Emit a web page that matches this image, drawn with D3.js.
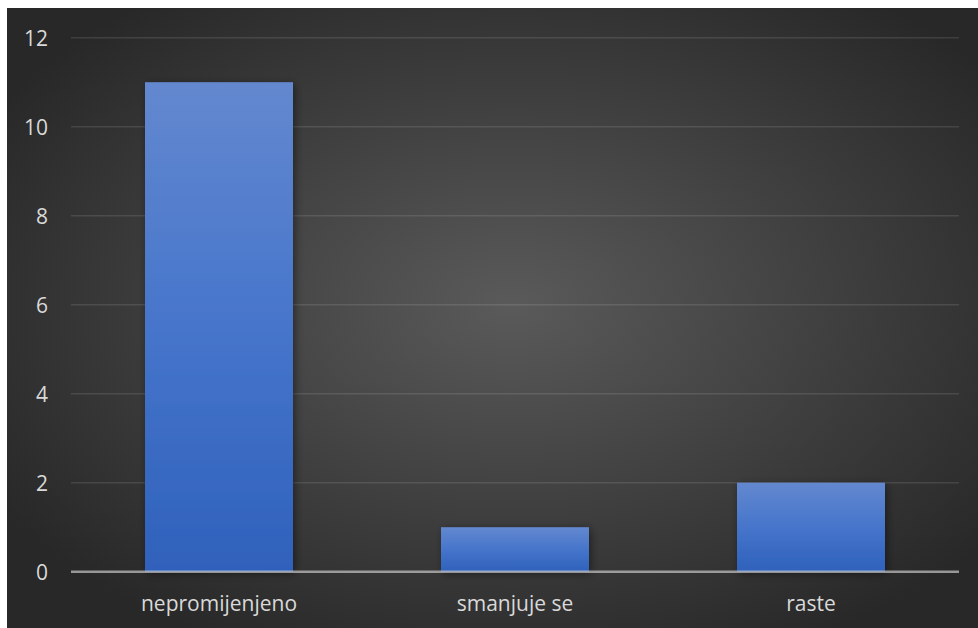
<!DOCTYPE html>
<html><head><meta charset="utf-8">
<script src="https://cdn.jsdelivr.net/npm/d3@7"></script>
<style>html,body{margin:0;padding:0;background:#fff;}svg{display:block;}</style>
</head><body>
<svg id="c" width="978" height="628"></svg>
<script>
const categories = ["nepromijenjeno", "smanjuje se", "raste"];
const values = [11, 1, 2];
const yTicks = [0, 2, 4, 6, 8, 10, 12];

const svg = d3.select("#c");
const W = 978, H = 628;
const frame = {x: 7, y: 8, w: W - 7, h: H - 8};
const plot = {left: 71, right: 959, top: 37.7, bottom: 571.7};

const defs = svg.append("defs");
const bg = defs.append("radialGradient").attr("id", "bg")
  .attr("cx", "52%").attr("cy", "48%").attr("r", "62%");
bg.append("stop").attr("offset", "0%").attr("stop-color", "#5a5a5a");
bg.append("stop").attr("offset", "100%").attr("stop-color", "#282828");

const bar = defs.append("linearGradient").attr("id", "bar")
  .attr("x1", 0).attr("y1", 0).attr("x2", 0).attr("y2", 1);
bar.append("stop").attr("offset", "0%").attr("stop-color", "#6388cf");
bar.append("stop").attr("offset", "50%").attr("stop-color", "#4675cb");
bar.append("stop").attr("offset", "100%").attr("stop-color", "#2f61bb");

const sh = defs.append("filter").attr("id", "sh")
  .attr("x", "-20%").attr("y", "-20%").attr("width", "140%").attr("height", "140%");
sh.append("feDropShadow").attr("dx", 2).attr("dy", 2).attr("stdDeviation", 4)
  .attr("flood-color", "#000").attr("flood-opacity", 0.45);

svg.append("rect").attr("x", frame.x).attr("y", frame.y)
  .attr("width", frame.w).attr("height", frame.h).attr("fill", "url(#bg)");

const x = d3.scaleBand().domain(categories)
  .range([plot.left, plot.right]).paddingInner(0.5).paddingOuter(0.25);
const y = d3.scaleLinear().domain([0, 12]).range([plot.bottom, plot.top]);

// gridlines
svg.append("g").selectAll("line").data(yTicks.filter(d => d > 0)).join("line")
  .attr("x1", plot.left).attr("x2", plot.right)
  .attr("y1", d => y(d)).attr("y2", d => y(d))
  .attr("stroke", "rgba(255,255,255,0.11)").attr("stroke-width", 1.5);

// bars
svg.append("g").selectAll("rect").data(values).join("rect")
  .attr("x", (d, i) => x(categories[i]))
  .attr("y", d => y(d))
  .attr("width", x.bandwidth())
  .attr("height", d => y(0) - y(d))
  .attr("fill", "url(#bar)")
  .attr("filter", "url(#sh)");

// axis line
svg.append("line").attr("x1", plot.left).attr("x2", plot.right)
  .attr("y1", y(0)).attr("y2", y(0))
  .attr("stroke", "rgba(220,220,220,0.62)").attr("stroke-width", 2.5);

const font = "'Open Sans', 'Noto Sans', sans-serif";

// y axis labels
const yAxis = d3.axisLeft(y).tickValues(yTicks).tickSize(0).tickPadding(0);
const gy = svg.append("g").attr("transform", "translate(48,0)").call(yAxis);
gy.select(".domain").remove();
gy.selectAll("text").attr("fill", "#d9d9d9").attr("font-family", font)
  .attr("font-size", 21).attr("dy", "0.36em").attr("x", 0);

// x axis labels
const xAxis = d3.axisBottom(x).tickSize(0).tickPadding(0);
const gx = svg.append("g").attr("transform", `translate(0,${y(0)})`).call(xAxis);
gx.select(".domain").remove();
gx.selectAll("text").attr("fill", "#d9d9d9").attr("font-family", font)
  .attr("font-size", 21).attr("dy", 0).attr("y", 39.5);
</script>
</body></html>
